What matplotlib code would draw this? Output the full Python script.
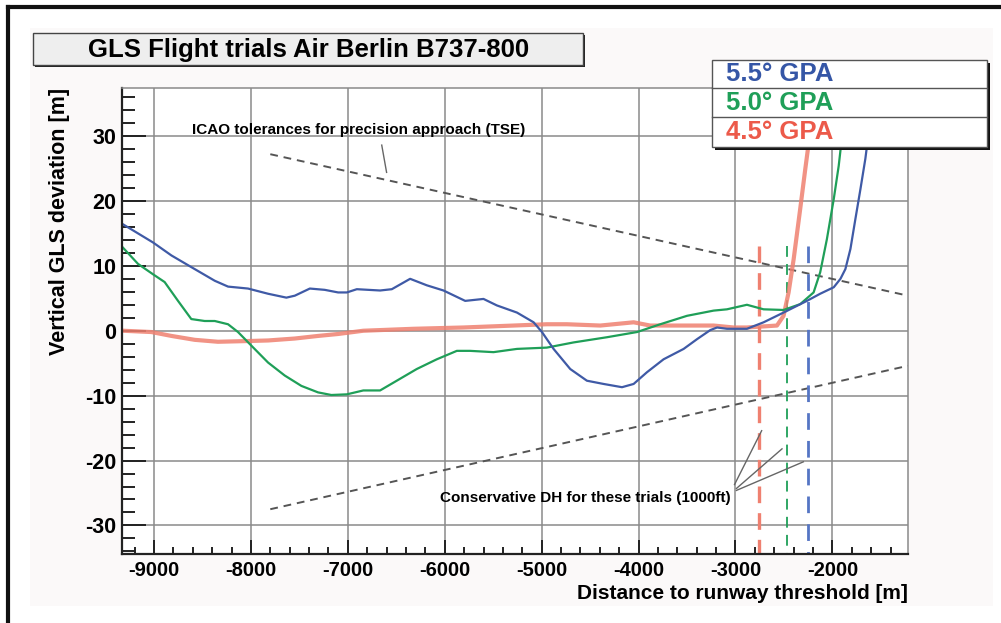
import numpy as np
import matplotlib
matplotlib.use("Agg")
import matplotlib.pyplot as plt
from matplotlib.patches import Rectangle
from matplotlib.lines import Line2D
from matplotlib.ticker import MultipleLocator

plt.rcParams['font.family'] = ['Liberation Sans', 'DejaVu Sans']
plt.rcParams['font.weight'] = 'bold'
plt.rcParams['axes.unicode_minus'] = False

# data
blue_x = [-9320, -9010, -8820, -8580, -8373, -8236, -8030, -7823, -7634, -7547, -7392,
          -7238, -7100, -7010, -6907, -6667, -6546, -6357, -6185, -6013, -5789, -5600,
          -5462, -5255, -5083, -4997, -4877, -4705, -4533, -4361, -4171, -4051, -3914,
          -3742, -3535, -3397, -3260, -3190, -3088, -2882, -2710, -2504, -2263, -2126,
          -1986, -1917, -1866, -1814, -1763, -1711, -1660, -1630]
blue_y = [16.4, 13.6, 11.6, 9.5, 7.7, 6.8, 6.5, 5.7, 5.1, 5.4, 6.5,
          6.3, 5.9, 5.9, 6.4, 6.2, 6.4, 8.0, 7.0, 6.2, 4.6, 4.9,
          3.9, 2.8, 1.3, -0.2, -2.8, -5.9, -7.7, -8.2, -8.7, -8.2, -6.4,
          -4.4, -2.8, -1.3, 0.1, 0.5, 0.3, 0.3, 1.3, 2.8, 4.6, 5.7,
          6.7, 8.0, 9.5, 12.6, 17.2, 21.8, 26.5, 30.0]

green_x = [-9320, -9165, -9010, -8890, -8752, -8615, -8477, -8373, -8236, -8133, -7995,
           -7823, -7651, -7479, -7307, -7170, -7010, -6840, -6667, -6495, -6289, -6082,
           -5875, -5738, -5497, -5255, -4947, -4670, -4326, -4016, -3776, -3500, -3226,
           -3088, -2882, -2710, -2504, -2332, -2194, -2126, -2057, -1986, -1935, -1900]
green_y = [12.8, 10.3, 8.7, 7.5, 4.6, 1.8, 1.5, 1.5, 1.0, -0.2, -2.3,
           -4.9, -6.9, -8.5, -9.5, -9.9, -9.8, -9.2, -9.2, -7.7, -5.9, -4.4,
           -3.1, -3.1, -3.3, -2.8, -2.6, -1.8, -1.0, -0.2, 1.0, 2.3, 3.1,
           3.3, 4.0, 3.3, 3.2, 4.1, 5.9, 9.0, 14.1, 20.3, 25.4, 30.0]

red_x = [-9320, -9027, -8820, -8580, -8340, -8064, -7823, -7547, -7307, -7100, -6840,
         -6324, -5808, -5290, -4947, -4740, -4395, -4051, -3880, -3570, -3226, -3020,
         -2882, -2572, -2504, -2452, -2400, -2332, -2280, -2235]
red_y = [0.0, -0.2, -0.8, -1.4, -1.7, -1.6, -1.5, -1.2, -0.8, -0.5, 0.0,
         0.3, 0.5, 0.8, 1.0, 1.0, 0.8, 1.3, 0.8, 0.8, 0.8, 0.5,
         0.5, 0.8, 2.3, 5.9, 11.0, 18.8, 24.9, 30.0]

tse_x = [-7800, -1220]
tse_upper = [27.2, 5.4]
tse_lower = [-27.5, -5.4]

dh_x = [-2760, -2470, -2250]   # red, green, blue
dh_top = 13

labels = ["5.5° GPA", "5.0° GPA", "4.5° GPA"]
blue = '#3f5aa6'
green = '#1f9f58'
red = '#ef8070'
legend_cols = ['#3556a6', '#1f9f58', '#ec5a4a']

W, H = 1001, 623
fig = plt.figure(figsize=(W / 100, H / 100), dpi=100)

def fx(px):
    return px / W

def fy(py):
    return 1 - py / H

# light background and outer frame
fig.patches.append(Rectangle((fx(30), fy(606)), fx(993) - fx(30), fy(28) - fy(606),
                             transform=fig.transFigure, facecolor='#fbf9f9', edgecolor='none', zorder=-5))
fig.lines.append(Line2D([fx(8), fx(8)], [fy(7), 0], transform=fig.transFigure, color='#111', lw=3, zorder=-4))
fig.lines.append(Line2D([fx(8), 1], [fy(7), fy(7)], transform=fig.transFigure, color='#111', lw=3, zorder=-4))

ax = fig.add_axes([fx(122), fy(554), fx(908) - fx(122), fy(88) - fy(554)])
ax.set_facecolor('white')
ax.set_xlim(-9330, -1220)
ax.set_ylim(-34.4, 37.4)

ax.grid(True, color='#8a8a8a', lw=1.1)
ax.set_axisbelow(True)
ax.xaxis.set_major_locator(MultipleLocator(1000))
ax.xaxis.set_minor_locator(MultipleLocator(200))
ax.yaxis.set_major_locator(MultipleLocator(10))
ax.yaxis.set_minor_locator(MultipleLocator(2))
ax.tick_params(axis='both', which='both', direction='in', color='#222', width=1.4)
ax.tick_params(axis='y', which='major', length=17, pad=4, labelsize=15.5)
ax.tick_params(axis='y', which='minor', length=9)
ax.tick_params(axis='x', which='major', length=10, pad=5, labelsize=14.5)
ax.tick_params(axis='x', which='minor', length=5)
for lab in ax.get_xticklabels() + ax.get_yticklabels():
    lab.set_fontweight('bold')
for s in ['left', 'bottom']:
    ax.spines[s].set_color('#222')
    ax.spines[s].set_linewidth(1.6)
for s in ['top', 'right']:
    ax.spines[s].set_color('#8a8a8a')
    ax.spines[s].set_linewidth(1.1)

# ICAO tolerance lines
ax.plot(tse_x, tse_upper, color='#555', lw=1.4, dashes=(4, 3))
ax.plot(tse_x, tse_lower, color='#555', lw=1.4, dashes=(4, 3))

# decision height markers
ax.plot([dh_x[0]] * 2, [dh_top, -40], color=red, lw=2.4, dashes=(5, 3))
ax.plot([dh_x[1]] * 2, [dh_top, -40], color=green, lw=1.3, dashes=(6, 4))
ax.plot([dh_x[2]] * 2, [dh_top, -40], color='#5575c4', lw=2.0, dashes=(6, 4))

# flight tracks
ax.plot(red_x, red_y, color=red, lw=3.0, alpha=0.85, solid_capstyle='round')
ax.plot(green_x, green_y, color=green, lw=1.6)
ax.plot(blue_x, blue_y, color=blue, lw=1.6)

# annotations
ax.text(-8610, 30.9, "ICAO tolerances for precision approach (TSE)", fontsize=11,
        fontweight='bold', ha='left', va='center')
ax.plot([-6650, -6600], [28.6, 24.4], color='#666', lw=1)
ax.text(-3050, -25.8, "Conservative DH for these trials (1000ft)", fontsize=11,
        fontweight='bold', ha='right', va='center')
ax.plot([-3010, -2730], [-23.7, -15.4], color='#666', lw=1)
ax.plot([-2990, -2520], [-24.3, -18.2], color='#666', lw=1)
ax.plot([-2990, -2300], [-24.6, -20.2], color='#666', lw=1)

# axis labels
fig.text(fx(60), fy(88), "Vertical GLS deviation [m]", rotation=90, ha='center', va='top',
         fontsize=15.5, fontweight='bold')
fig.text(fx(908), fy(599), "Distance to runway threshold [m]", ha='right', va='baseline',
         fontsize=15, fontweight='bold')

# title box
fig.patches.append(Rectangle((fx(35), fy(67)), fx(585) - fx(35), fy(35) - fy(67),
                             transform=fig.transFigure, facecolor='#222', edgecolor='none', zorder=5))
fig.patches.append(Rectangle((fx(33), fy(65)), fx(583) - fx(33), fy(33) - fy(65),
                             transform=fig.transFigure, facecolor='#eeeeee', edgecolor='#444', lw=1, zorder=6))
fig.text(fx(88), fy(49.5), "GLS Flight trials Air Berlin B737-800", ha='left', va='center',
         fontsize=18.5, fontweight='bold', zorder=7)

# legend box
fig.patches.append(Rectangle((fx(715), fy(150)), fx(990) - fx(715), fy(63) - fy(150),
                             transform=fig.transFigure, facecolor='#111', edgecolor='none', zorder=8))
fig.patches.append(Rectangle((fx(712), fy(147)), fx(987) - fx(712), fy(60) - fy(147),
                             transform=fig.transFigure, facecolor='white', edgecolor='#555', lw=1, zorder=9))
for py in [88, 117]:
    fig.lines.append(Line2D([fx(712), fx(987)], [fy(py), fy(py)], transform=fig.transFigure,
                            color='#555', lw=1, zorder=10))
for i, (lab, col) in enumerate(zip(labels, legend_cols)):
    fig.text(fx(726), fy(74 + 29 * i), lab, color=col, ha='left', va='center',
             fontsize=18.5, fontweight='bold', zorder=11)

plt.savefig("out.png", dpi=100)
